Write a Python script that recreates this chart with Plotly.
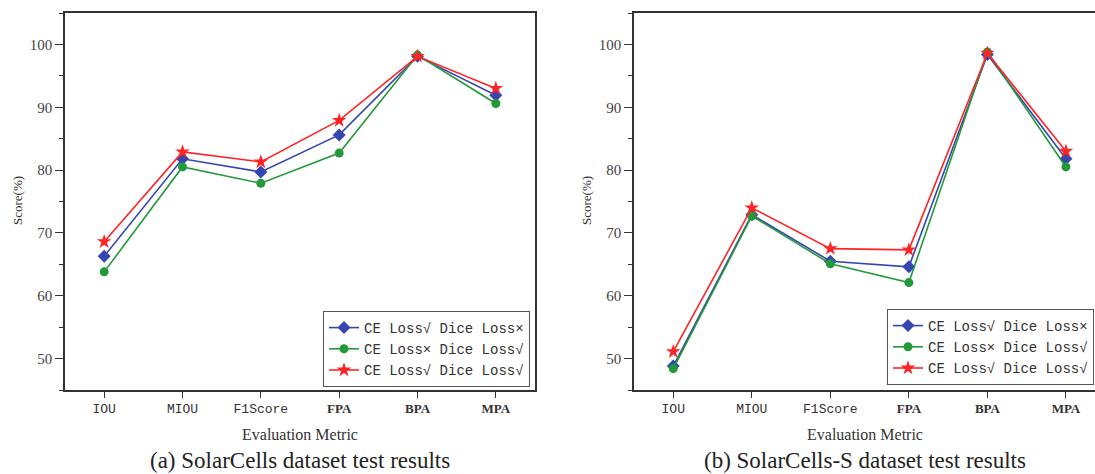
import plotly.graph_objects as go

metrics = ["IOU", "MIOU", "F1Score", "FPA", "BPA", "MPA"]
series_names = ["CE Loss√ Dice Loss×", "CE Loss× Dice Loss√", "CE Loss√ Dice Loss√"]

# (a) SolarCells dataset
a_ce_only = [66.3, 81.8, 79.7, 85.6, 98.1, 91.9]
a_dice_only = [63.8, 80.5, 77.9, 82.7, 98.3, 90.6]
a_both = [68.6, 82.9, 81.3, 87.9, 98.1, 93.0]

# (b) SolarCells-S dataset
b_ce_only = [48.8, 72.9, 65.5, 64.6, 98.4, 81.8]
b_dice_only = [48.4, 72.7, 65.1, 62.1, 98.8, 80.5]
b_both = [51.1, 74.0, 67.5, 67.3, 98.6, 83.0]

captions = ["(a) SolarCells dataset test results", "(b) SolarCells-S dataset test results"]

colors = ["#3646B0", "#22993A", "#FF2424"]
symbols = ["diamond", "circle", "star"]
msizes = [10, 9, 11]

W, H = 1095, 474
fig = go.Figure()

x_idx = list(range(len(metrics)))
panels = [
    ([a_ce_only, a_dice_only, a_both], "x", "y", "legend"),
    ([b_ce_only, b_dice_only, b_both], "x2", "y2", "legend2"),
]
for data, xa, ya, lg in panels:
    for i, vals in enumerate(data):
        fig.add_trace(go.Scatter(
            x=x_idx, y=vals, mode="lines+markers", name=series_names[i],
            line=dict(color=colors[i], width=1.6),
            marker=dict(symbol=symbols[i], size=msizes[i], color=colors[i]),
            xaxis=xa, yaxis=ya, legend=lg, showlegend=True,
        ))

mono = "Liberation Mono, DejaVu Sans Mono, monospace"
serif = "Liberation Serif, Times New Roman, serif"
ticktext = []
for m in metrics:
    if m in ("FPA", "BPA", "MPA"):
        ticktext.append('<span style="font-family:Liberation Serif;font-weight:bold">' + m + "</span>")
    else:
        ticktext.append(m)

def px_x(p):
    return p / W

def px_y(p):
    return (H - p) / H

y_dom = [px_y(390), px_y(13)]
axis_line = dict(showline=True, linecolor="#333333", linewidth=1.6, showgrid=False, zeroline=False)

xcommon = dict(
    tickmode="array", tickvals=x_idx, ticktext=ticktext,
    ticks="outside", ticklen=6, tickwidth=1.4, tickcolor="#333333",
    tickfont=dict(family=mono, size=13, color="#333333"),
    mirror=True, automargin=False, **axis_line,
)
ycommon = dict(
    range=[45, 105], tickmode="array", tickvals=[50, 60, 70, 80, 90, 100],
    ticks="outside", ticklen=8, tickwidth=1.4, tickcolor="#333333",
    tickfont=dict(family=serif, size=15, color="#444444"),
    minor=dict(ticks="outside", ticklen=4, tickwidth=1.2, tickcolor="#333333",
               tickmode="array", tickvals=[45, 55, 65, 75, 85, 95, 105]),
    automargin=False, **axis_line,
)

fig.update_layout(
    width=W, height=H,
    margin=dict(l=0, r=0, t=0, b=0),
    paper_bgcolor="white", plot_bgcolor="white",
    xaxis=dict(domain=[px_x(65), px_x(535)], range=[-0.5, 5.5], anchor="y", **xcommon),
    yaxis=dict(domain=y_dom, anchor="x", **{**ycommon, "mirror": True}),
    xaxis2=dict(domain=[px_x(634), 1.0], range=[-0.5, 5.37], anchor="y2", **xcommon),
    yaxis2=dict(domain=y_dom, anchor="x2", **{**ycommon, "mirror": False}),
    legend=dict(
        x=px_x(530), y=px_y(387), xanchor="right", yanchor="bottom",
        bgcolor="white", bordercolor="#555555", borderwidth=1,
        font=dict(family=mono, size=14, color="#333333"),
        tracegroupgap=0, itemwidth=30,
    ),
    legend2=dict(
        x=px_x(887), y=px_y(385), xanchor="left", yanchor="bottom",
        bgcolor="white", bordercolor="#555555", borderwidth=1,
        font=dict(family=mono, size=14, color="#333333"),
        tracegroupgap=0, itemwidth=30,
    ),
    showlegend=True,
)

annotations = []
for cx, ycx, cap in [(300, 17, captions[0]), (865, 586, captions[1])]:
    annotations.append(dict(
        text="Evaluation Metric", x=px_x(cx), y=px_y(434), xref="paper", yref="paper",
        showarrow=False, xanchor="center", yanchor="middle",
        font=dict(family=serif, size=16, color="#333333"),
    ))
    annotations.append(dict(
        text=cap, x=px_x(cx), y=px_y(460), xref="paper", yref="paper",
        showarrow=False, xanchor="center", yanchor="middle",
        font=dict(family=serif, size=23, color="#222222"),
    ))
    annotations.append(dict(
        text="Score(%)", x=px_x(ycx), y=px_y(201), xref="paper", yref="paper",
        showarrow=False, xanchor="center", yanchor="middle", textangle=-90,
        font=dict(family=serif, size=13, color="#333333"),
    ))
fig.update_layout(annotations=annotations)

fig.write_html("out.html")
